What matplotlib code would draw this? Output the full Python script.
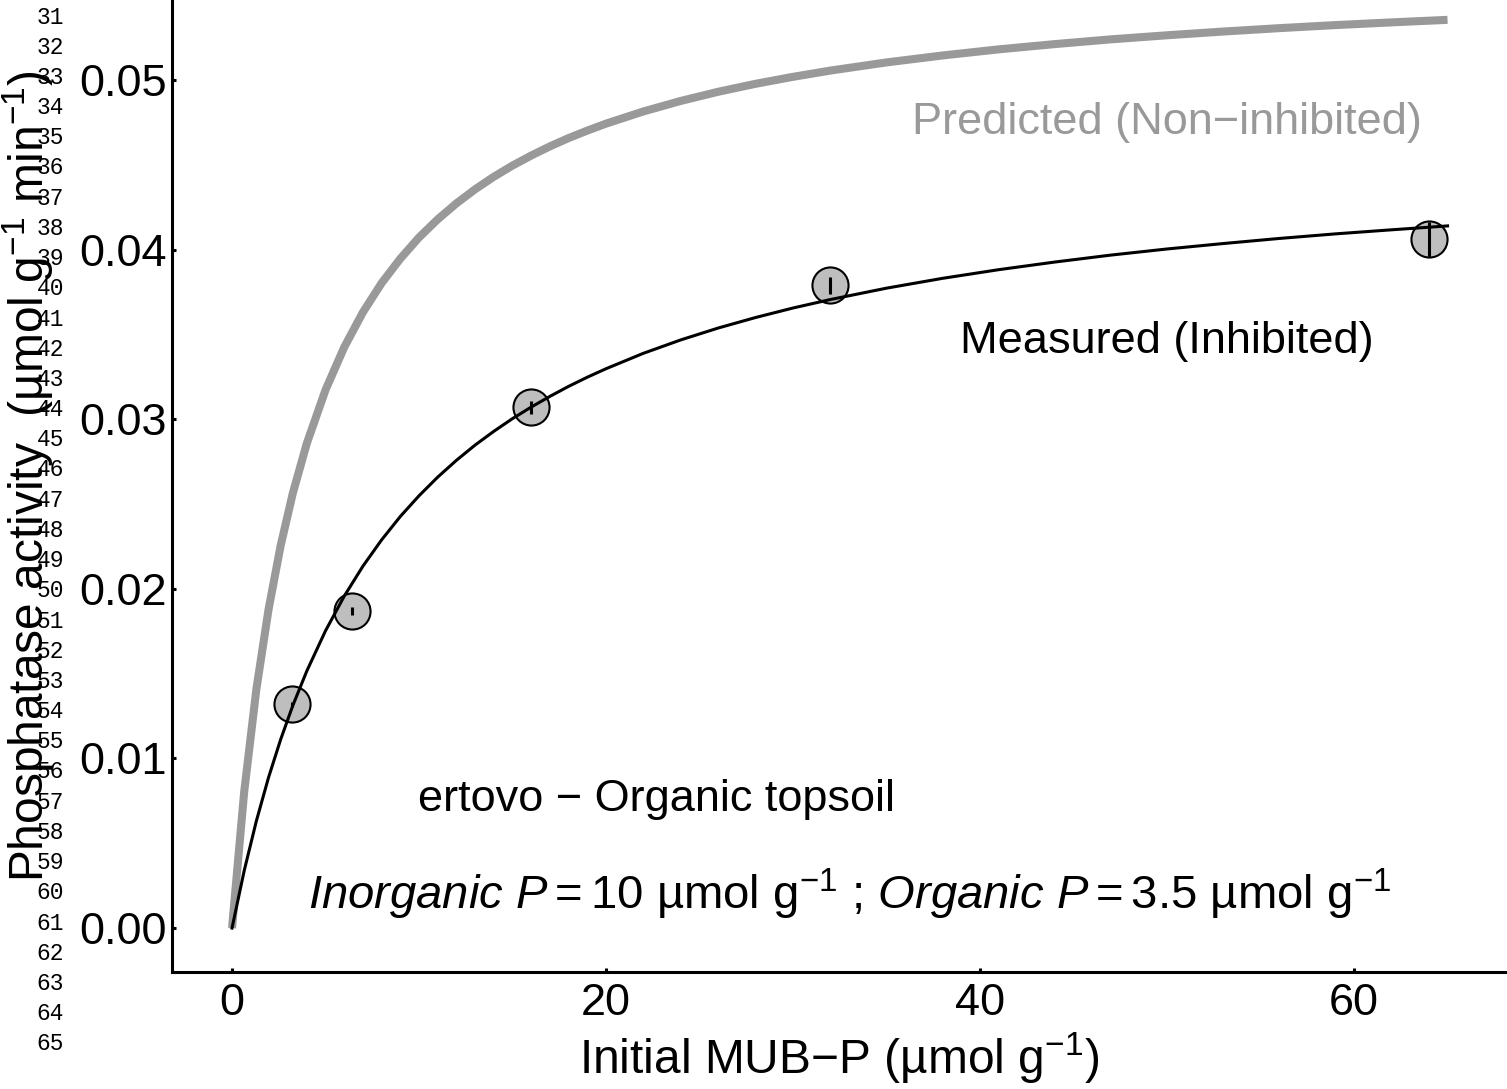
import matplotlib
matplotlib.use("Agg")
import matplotlib.pyplot as plt

plt.rcParams["font.family"] = ["Liberation Sans", "DejaVu Sans"]
plt.rcParams["mathtext.fontset"] = "custom"
plt.rcParams["mathtext.rm"] = "Liberation Sans"
plt.rcParams["mathtext.it"] = "Liberation Sans:italic"
plt.rcParams["mathtext.default"] = "regular"

# measured activity (mean and sd) at each initial MUB-P level
mub_p = [3.2, 6.4, 16, 32, 64]
activity = [0.0132, 0.0187, 0.0307, 0.0379, 0.0406]
activity_sd = [0.00015, 0.00025, 0.0004, 0.0005, 0.00105]

# fitted curves, read along the substrate range
curve_x = [0, 0.65, 1.3, 1.95, 2.6, 3.25, 4, 5, 6, 7, 8, 9, 10, 11, 12, 13, 14, 15,
           16, 17, 18, 19, 20, 22, 24, 26, 28, 30, 32, 35, 38, 41, 44, 47, 50, 53,
           56, 59, 62, 65]
measured_fit = [0, 0.00338, 0.00631, 0.00887, 0.01112, 0.01312, 0.01516, 0.01753,
                0.01957, 0.02134, 0.02289, 0.02427, 0.02549, 0.02659, 0.02758,
                0.02848, 0.02929, 0.03004, 0.03072, 0.03135, 0.03194, 0.03248,
                0.03298, 0.03389, 0.03468, 0.03538, 0.03600, 0.03656, 0.03706,
                0.03773, 0.03831, 0.03882, 0.03927, 0.03968, 0.04004, 0.04036,
                0.04066, 0.04093, 0.04117, 0.04140]
predicted_fit = [0, 0.00803, 0.01407, 0.01877, 0.02255, 0.02564, 0.02858, 0.03173,
                 0.03425, 0.03631, 0.03803, 0.03947, 0.04072, 0.04179, 0.04273,
                 0.04356, 0.04430, 0.04496, 0.04555, 0.04609, 0.04658, 0.04702,
                 0.04743, 0.04815, 0.04877, 0.04931, 0.04978, 0.05019, 0.05056,
                 0.05104, 0.05145, 0.05181, 0.05212, 0.05240, 0.05264, 0.05286,
                 0.05306, 0.05324, 0.05340, 0.05355]

x_ticks = [0, 20, 40, 60]
y_ticks = [0.00, 0.01, 0.02, 0.03, 0.04, 0.05]
line_numbers = list(range(31, 66))

fig = plt.figure(figsize=(15.07, 10.89), dpi=100)
ax = fig.add_axes([172 / 1507, 117 / 1089, 1335 / 1507, 972 / 1089])

ax.plot(curve_x, predicted_fit, color="#999999", lw=5.8, solid_capstyle="butt",
        solid_joinstyle="round", zorder=2)
ax.scatter(mub_p, activity, s=26 ** 2, facecolor="#bebebe", edgecolor="black",
           linewidth=1.5, zorder=3)
ax.errorbar(mub_p, activity, yerr=activity_sd, fmt="none", ecolor="black",
            elinewidth=2.2, capsize=0, zorder=4)
ax.plot(curve_x, measured_fit, color="black", lw=2.2, zorder=5)

ax.text(50, 0.0475, "Predicted (Non\u2212inhibited)", color="#999999", fontsize=32.5,
        ha="center", va="center")
ax.text(50, 0.0346, "Measured (Inhibited)", color="black", fontsize=32.5,
        ha="center", va="center")
ax.text(22.7, 0.0076, "ertovo \u2212 Organic topsoil", color="black", fontsize=32.5,
        ha="center", va="center")
ax.text(33, 0.0020,
        r"$\mathit{Inorganic\ P} = 10$ µmol g$^{-1}$ ; $\mathit{Organic\ P} = 3.5$ µmol g$^{-1}$",
        color="black", fontsize=34, ha="center", va="center")

ax.set_xlim(-3.21, 68.18)
ax.set_ylim(-0.00259, 0.05472)
ax.set_xticks(x_ticks)
ax.set_yticks(y_ticks)
ax.set_xticklabels([str(v) for v in x_ticks])
ax.set_yticklabels([f"{v:.2f}" for v in y_ticks])
ax.tick_params(axis="both", direction="in", length=3, width=2.2, labelsize=32.5)
ax.tick_params(axis="x", pad=8)
ax.tick_params(axis="y", pad=4)

for side in ["top", "right"]:
    ax.spines[side].set_visible(False)
for side in ["left", "bottom"]:
    ax.spines[side].set_linewidth(2.2)

ax.set_xlabel("Initial MUB\u2212P (µmol g$^{-1}$)", fontsize=34.5)
ax.xaxis.set_label_coords(0.5, -0.06)
ax.set_ylabel("Phosphatase activity  (µmol g$^{-1}$ min$^{-1}$)", fontsize=34.5)
ax.yaxis.set_label_coords(-0.087, 0.51)

# manuscript line numbers down the left margin
for i, n in enumerate(line_numbers):
    fig.text(64 / 1507, 1 - (17 + i * 30.2) / 1089, str(n), family="Liberation Mono",
             fontsize=16.5, ha="right", va="center")

fig.savefig("out.png", dpi=100)
